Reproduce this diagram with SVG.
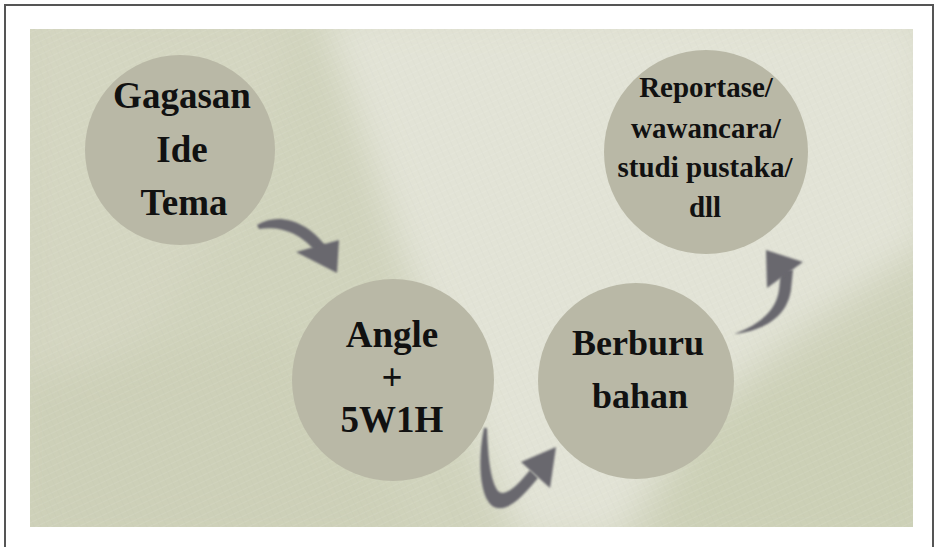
<svg xmlns="http://www.w3.org/2000/svg" width="935" height="547" viewBox="0 0 935 547">
  <defs>
    <filter id="soft" x="-20%" y="-20%" width="140%" height="140%">
      <feGaussianBlur stdDeviation="18"/>
    </filter>
    <filter id="soft2" x="-10%" y="-10%" width="120%" height="120%">
      <feGaussianBlur stdDeviation="1"/>
    </filter>
    <pattern id="weave" width="6" height="6" patternUnits="userSpaceOnUse" patternTransform="rotate(-25)">
      <rect width="6" height="6" fill="none"/>
      <line x1="0" y1="0" x2="6" y2="0" stroke="#ffffff" stroke-opacity="0.12" stroke-width="1.2"/>
      <line x1="0" y1="0" x2="0" y2="6" stroke="#9a9c84" stroke-opacity="0.08" stroke-width="1"/>
    </pattern>
    <clipPath id="photo">
      <rect x="30" y="29" width="883" height="498"/>
    </clipPath>
    <style>
      .node circle { fill: #b9b8a6; }
      .node text { font-family: "Liberation Serif", "Times New Roman", serif; font-weight: bold; fill: #111111; text-anchor: middle; }
      .arrow { fill: #69686e; filter: url(#soft2); }
    </style>
  </defs>

  <rect x="0" y="0" width="935" height="547" fill="#ffffff"/>
  <path d="M5,547 L5,5 L933,5 L933,547" fill="none" stroke="#555555" stroke-width="2"/>

  <g id="background" clip-path="url(#photo)">
    <rect x="30" y="29" width="883" height="498" fill="#d0d3bc"/>
    <g filter="url(#soft)">
      <polygon points="320,10 930,10 930,240 800,330 690,420 620,540 520,540 470,430 400,250" fill="#e2e3d6"/>
      <polygon points="20,10 300,10 240,200 150,330 20,420" fill="#d4d6c1"/>
      <polygon points="700,430 930,300 930,540 660,540" fill="#ccd0b6"/>
      <polygon points="20,380 280,330 420,540 20,540" fill="#cdd0b8"/>
    </g>
    <rect x="30" y="29" width="883" height="498" fill="url(#weave)"/>
  </g>

  <g id="connectors">
    <g id="arrow-1">
      <path class="arrow" d="M257,225 C276,213 306,218 328,249 L318,255 C302,233 281,226 259,229 Z"/>
      <path class="arrow" d="M296,252 L339,240 L337,273 Z"/>
    </g>
    <g id="arrow-2">
      <path class="arrow" d="M484,428 C477,462 480,500 494,507 C508,513 523,496 538,478 L530,470 C518,485 505,498 498,491 C490,480 488,455 487,428 Z"/>
      <path class="arrow" d="M521,462 L556,447 L550,488 Z"/>
    </g>
    <g id="arrow-3">
      <path class="arrow" d="M734,334 C762,331 787,318 791,290 L793,270 L781,270 L779,290 C776,311 759,325 734,334 Z"/>
      <path class="arrow" d="M766,250 L803,262 L767,288 Z"/>
    </g>
  </g>

  <g id="node-gagasan" class="node">
    <circle cx="180" cy="150" r="95"/>
    <text x="182" y="108" font-size="37">Gagasan</text>
    <text x="182" y="162" font-size="37">Ide</text>
    <text x="184" y="215" font-size="37">Tema</text>
  </g>

  <g id="node-angle" class="node">
    <circle cx="393" cy="380" r="101"/>
    <text x="392" y="347" font-size="37">Angle</text>
    <text x="392" y="390" font-size="37">+</text>
    <text x="392" y="432" font-size="37">5W1H</text>
  </g>

  <g id="node-berburu" class="node">
    <circle cx="636" cy="381" r="98"/>
    <text x="638" y="355" font-size="36">Berburu</text>
    <text x="640" y="408" font-size="36">bahan</text>
  </g>

  <g id="node-reportase" class="node">
    <circle cx="706" cy="152" r="102"/>
    <text x="706" y="97" font-size="29">Reportase/</text>
    <text x="706" y="138" font-size="29">wawancara/</text>
    <text x="705" y="177" font-size="29">studi pustaka/</text>
    <text x="705" y="217" font-size="29">dll</text>
  </g>
</svg>
